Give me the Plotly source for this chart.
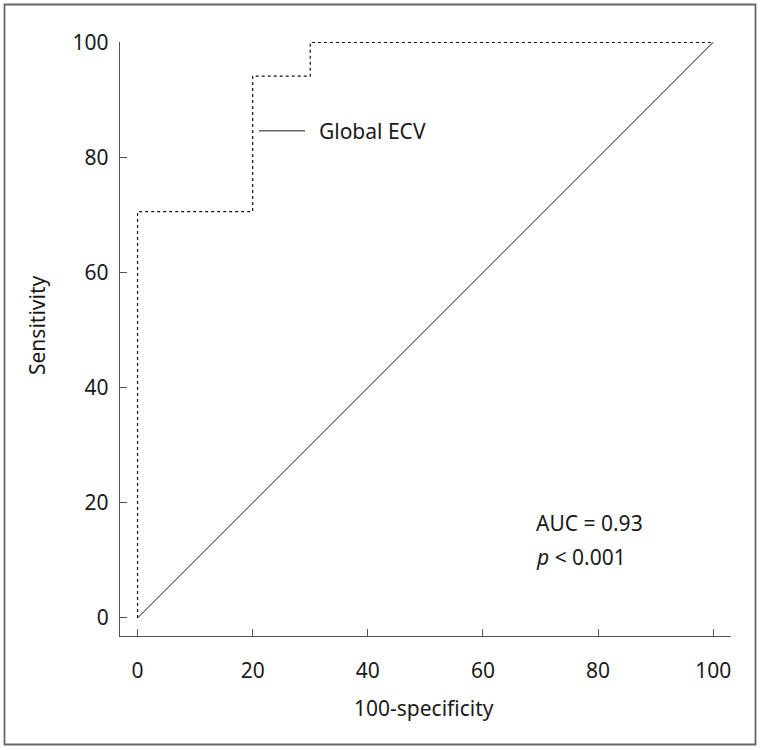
import plotly.graph_objects as go

# ROC step curve (100-specificity vs sensitivity)
roc_x = [0, 0, 20, 20, 30, 30, 100]
roc_y = [0, 70.59, 70.59, 94.12, 94.12, 100, 100]
# reference diagonal
diag_x = [0, 100]
diag_y = [0, 100]
tick_vals = [0, 20, 40, 60, 80, 100]
series_name = "Global ECV"
auc_text = "AUC = 0.93"
p_text = "<i>p</i> < 0.001"
x_title = "100-specificity"
y_title = "Sensitivity"

FONT = "Noto Sans"
W, H = 761, 750
# target plot-area edges in pixels
PX_L, PX_R, PX_T, PX_B = 120, 731, 42, 636
L, T = PX_L, PX_T
R, B = W - PX_R, H - PX_B
pw, ph = PX_R - PX_L, PX_B - PX_T


def px(xs):
    return (xs - PX_L) / pw


def py(ys):
    return (PX_B - ys) / ph


TXT = dict(family=FONT, size=21, color="#1a1a1a")

fig = go.Figure()
fig.add_trace(go.Scatter(x=diag_x, y=diag_y, mode="lines",
                         line=dict(color="#111", width=1), showlegend=False,
                         hoverinfo="skip"))
fig.add_trace(go.Scatter(x=roc_x, y=roc_y, mode="lines",
                         line=dict(color="#111", width=1.2, dash="3px,3px"),
                         showlegend=False, cliponaxis=False))
fig.add_trace(go.Scatter(x=[None], y=[None], mode="lines",
                         name="\u00a0\u2009" + series_name,
                         line=dict(color="#666", width=1.5)))

axis_common = dict(showline=True, linecolor="#555", linewidth=1.3,
                   ticks="inside", ticklen=7, tickwidth=1.2, tickcolor="#555",
                   showgrid=False, zeroline=False, tickvals=tick_vals,
                   tickfont=TXT)

fig.update_layout(
    width=W, height=H,
    margin=dict(l=L, r=R, t=T, b=B, autoexpand=False),
    paper_bgcolor="white", plot_bgcolor="white",
    xaxis=dict(range=[-3.05, 103.1], ticklabelstandoff=16, **axis_common),
    yaxis=dict(range=[-3.13, 100.05], ticklabelstandoff=6, **axis_common),
    showlegend=True,
    legend=dict(x=px(254), y=py(131), xanchor="left", yanchor="middle",
                bgcolor="rgba(0,0,0,0)", itemwidth=46, font=TXT),
)

fig.add_annotation(xref="paper", yref="paper", x=px(424), y=py(708),
                   xanchor="center", yanchor="middle", showarrow=False,
                   text=x_title, font=TXT)
fig.add_annotation(xref="paper", yref="paper", x=px(37), y=py(326),
                   xanchor="center", yanchor="middle", showarrow=False,
                   textangle=-90, text=y_title, font=TXT)
fig.add_annotation(xref="paper", yref="paper", x=px(534), y=py(523),
                   xanchor="left", yanchor="middle", showarrow=False, align="left",
                   text=auc_text, font=TXT)
fig.add_annotation(xref="paper", yref="paper", x=px(534), y=py(557),
                   xanchor="left", yanchor="middle", showarrow=False, align="left",
                   text=p_text, font=TXT)

# outer frame
fig.add_shape(type="rect", xref="paper", yref="paper",
              x0=px(4.5), x1=px(755.5), y0=py(744.5), y1=py(4.5),
              line=dict(color="#666", width=1.8))

fig.write_html("out.html", config={"displayModeBar": False},
               post_script="document.body.style.margin='0px';"
                           "document.body.style.overflow='hidden';")
